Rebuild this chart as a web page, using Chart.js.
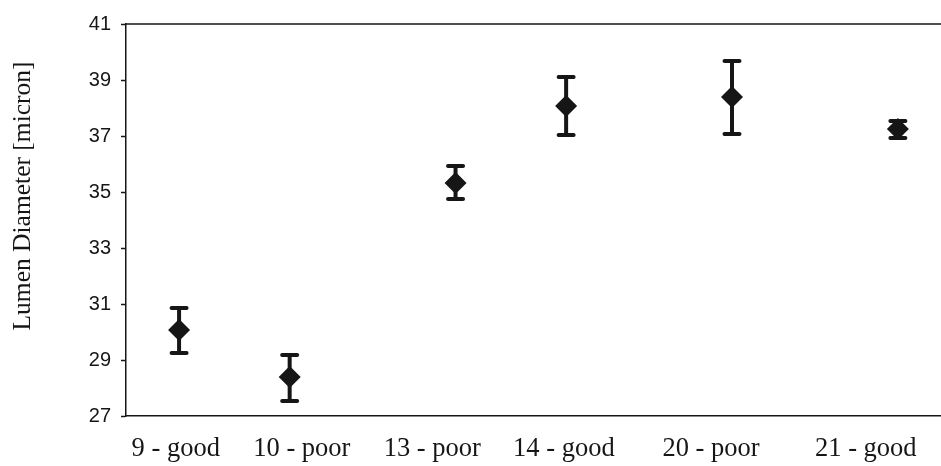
<!DOCTYPE html>
<html>
<head>
<meta charset="utf-8">
<script src="https://cdn.jsdelivr.net/npm/chart.js@4"></script>
<style>
  html, body { margin: 0; padding: 0; background: #fff; }
  #wrap { width: 941px; height: 466px; }
</style>
</head>
<body>
<div id="wrap"><canvas id="chart" width="941" height="466"></canvas></div>
<script>
const groups = ['9 - good', '10 - poor', '13 - poor', '14 - good', '20 - poor', '21 - good'];
const groupX = [1, 2, 3.5, 4.5, 6, 7.5];
const meanVals = [30.07, 28.39, 35.32, 38.07, 38.39, 37.25];
const upperVals = [30.86, 29.18, 35.93, 39.11, 39.68, 37.54];
const lowerVals = [29.25, 27.54, 34.75, 37.04, 37.07, 36.93];
const labelX = [0.97, 2.11, 3.29, 4.48, 5.81, 7.21];
const yTicks = [27, 29, 31, 33, 35, 37, 39, 41];

const ink = '#161616';

// error bars drawn under the diamonds
const errorBars = {
    id: 'errorBars',
    beforeDatasetsDraw(chart) {
        const ctx = chart.ctx;
        const xs = chart.scales.x, ys = chart.scales.y;
        ctx.save();
        ctx.strokeStyle = ink;
        ctx.lineCap = 'round';
        ctx.lineWidth = 4;
        for (let i = 0; i < groupX.length; i++) {
            const px = xs.getPixelForValue(groupX[i]);
            const top = ys.getPixelForValue(upperVals[i]);
            const bot = ys.getPixelForValue(lowerVals[i]);
            ctx.beginPath();
            ctx.moveTo(px, top);
            ctx.lineTo(px, bot);
            ctx.moveTo(px - 7.5, top);
            ctx.lineTo(px + 7.5, top);
            ctx.moveTo(px - 7.5, bot);
            ctx.lineTo(px + 7.5, bot);
            ctx.stroke();
        }
        ctx.restore();
    }
};

// top frame line and the y title
const frame = {
    id: 'frame',
    afterDraw(chart) {
        const ctx = chart.ctx;
        const a = chart.chartArea;
        ctx.save();
        ctx.strokeStyle = ink;
        ctx.lineWidth = 1.5;
        ctx.beginPath();
        ctx.moveTo(a.left, a.top);
        ctx.lineTo(a.right, a.top);
        ctx.stroke();

        ctx.translate(23, 196);
        ctx.rotate(-Math.PI / 2);
        ctx.fillStyle = ink;
        ctx.font = '25.5px "Liberation Serif"';
        ctx.textAlign = 'center';
        ctx.textBaseline = 'middle';
        ctx.fillText('Lumen Diameter [micron]', 0, 0);
        ctx.restore();
    }
};

const ctx = document.getElementById('chart').getContext('2d');

const myChart = new Chart(ctx, {
    type: 'scatter',
    data: {
        datasets: [{
            label: 'Lumen Diameter',
            data: groupX.map((x, i) => ({ x: x, y: meanVals[i] })),
            backgroundColor: ink,
            borderColor: ink,
            borderWidth: 0,
            pointStyle: 'rectRot',
            pointRadius: 11,
            pointHoverRadius: 11
        }]
    },
    options: {
        responsive: false,
        animation: false,
        layout: {
            autoPadding: false,
            padding: { left: 0, right: 0, top: 24, bottom: 0 }
        },
        scales: {
            x: {
                type: 'linear',
                min: 0.52,
                max: 7.89,
                afterBuildTicks: axis => {
                    axis.ticks = labelX.map(v => ({ value: v }));
                },
                afterFit: axis => {
                    axis.height = 50;
                    axis.paddingLeft = 0;
                    axis.paddingRight = 0;
                },
                grid: { display: false, drawTicks: false },
                border: { display: true, color: ink, width: 1.5 },
                ticks: {
                    color: ink,
                    padding: 17,
                    maxRotation: 0,
                    autoSkip: false,
                    font: { family: '"Liberation Serif"', size: 26.5 },
                    callback: (v, i) => groups[i]
                }
            },
            y: {
                min: 27,
                max: 41,
                afterBuildTicks: axis => {
                    axis.ticks = yTicks.map(v => ({ value: v }));
                },
                afterFit: axis => {
                    axis.width = 126;
                    axis.paddingTop = 0;
                    axis.paddingBottom = 0;
                },
                grid: {
                    display: true,
                    drawOnChartArea: false,
                    drawTicks: true,
                    tickLength: 5,
                    tickColor: ink,
                    tickWidth: 1.5
                },
                border: { display: true, color: ink, width: 1.5 },
                ticks: {
                    color: ink,
                    padding: 10,
                    font: { family: '"Liberation Sans"', size: 20 }
                }
            }
        },
        plugins: {
            legend: { display: false },
            tooltip: { enabled: false }
        }
    },
    plugins: [errorBars, frame]
});
</script>
</body>
</html>
